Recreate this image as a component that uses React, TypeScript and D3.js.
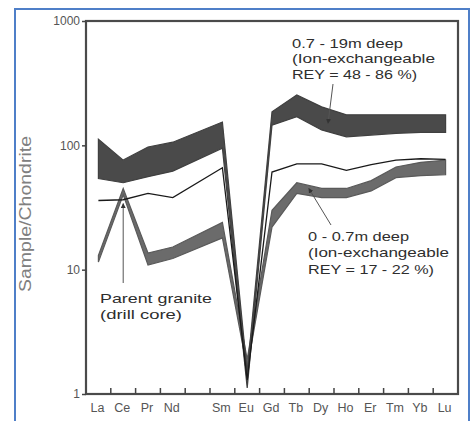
import React, { useEffect, useRef } from 'react';
import * as d3 from 'd3';

// x slots (Pm is left empty, like in the reference)
const slots = ['La', 'Ce', 'Pr', 'Nd', 'Pm', 'Sm', 'Eu', 'Gd', 'Tb', 'Dy', 'Ho', 'Er', 'Tm', 'Yb', 'Lu'];
const elements = ['La', 'Ce', 'Pr', 'Nd', 'Sm', 'Eu', 'Gd', 'Tb', 'Dy', 'Ho', 'Er', 'Tm', 'Yb', 'Lu'];

// 0.7 - 19m deep band
const deepTop = [112, 76, 97, 106, 154, 1.5, 186, 254, 204, 176, 176, 176, 176, 176];
const deepBottom = [54, 50, 56, 62, 95, 1.12, 145, 170, 133, 117, 121, 125, 127, 127];

// 0 - 0.7m deep band
const shallowTop = [13, 45, 13.6, 15.2, 24, 1.9, 30, 50, 45, 45, 52, 67, 73, 76];
const shallowBottom = [11.5, 40, 10.9, 12.3, 18, 1.6, 22, 41, 38, 38, 43, 55, 57, 58];

// parent granite (drill core)
const granite = [36, 36.5, 41, 38, 66, 1.3, 61, 71, 71, 63, 70, 76, 78, 77];

const yTicks = [1, 10, 100, 1000];

const W = 476;
const H = 421;

const App = () => {
  const svgRef = useRef(null);

  useEffect(() => {
    const svg = d3.select(svgRef.current);
    svg.selectAll('*').remove();

    const x = d3.scalePoint().domain(slots).range([86, 458]).padding(0.5);
    const y = d3.scaleLog().domain([1, 1000]).range([394, 21]);
    const step = x.step();

    const font = '"Liberation Sans", Arial, sans-serif';

    // blue outer frame
    svg.append('rect')
      .attr('x', 15).attr('y', 9)
      .attr('width', 454).attr('height', 430)
      .attr('fill', 'white')
      .attr('stroke', '#4f7fc8')
      .attr('stroke-width', 2);

    // arrow marker
    const defs = svg.append('defs');
    defs.append('marker')
      .attr('id', 'ah')
      .attr('viewBox', '0 0 10 10')
      .attr('refX', 9).attr('refY', 5)
      .attr('markerWidth', 5).attr('markerHeight', 5)
      .attr('orient', 'auto')
      .append('path')
      .attr('d', 'M0,0 L10,5 L0,10 Z')
      .attr('fill', '#333');

    const band = (top: number[], bottom: number[]) =>
      d3.area<number>()
        .x((d, i) => x(elements[i]) as number)
        .y0((d, i) => y(bottom[i]))
        .y1((d) => y(d))(top);

    const edge = d3.line<number>()
      .x((d, i) => x(elements[i]) as number)
      .y((d) => y(d));

    // shallow band
    svg.append('path')
      .attr('d', band(shallowTop, shallowBottom))
      .attr('fill', '#6b6b6b')
      .attr('stroke', '#5a5a5a')
      .attr('stroke-width', 1.2);

    // deep band
    svg.append('path')
      .attr('d', band(deepTop, deepBottom))
      .attr('fill', '#4a4a4a')
      .attr('stroke', '#404040')
      .attr('stroke-width', 1.2);

    // granite line
    svg.append('path')
      .attr('d', edge(granite))
      .attr('fill', 'none')
      .attr('stroke', '#1a1a1a')
      .attr('stroke-width', 1.3);

    // plot frame
    svg.append('rect')
      .attr('x', 86).attr('y', 21)
      .attr('width', 372).attr('height', 373)
      .attr('fill', 'none')
      .attr('stroke', '#4a4a4a')
      .attr('stroke-width', 2.2);

    // y axis ticks + labels
    const yAxis = d3.axisLeft(y).tickValues(yTicks).tickSize(4).tickFormat((d) => String(d));
    const gy = svg.append('g').attr('transform', 'translate(86,0)').call(yAxis);
    gy.select('.domain').remove();
    gy.selectAll('line').attr('stroke', '#444').attr('stroke-width', 1.5);
    gy.selectAll('text')
      .attr('x', -6)
      .attr('font-family', font)
      .attr('font-size', 12)
      .attr('fill', '#555');

    // x ticks at slot boundaries, pointing inward
    slots.slice(0, -1).forEach((s) => {
      const tx = (x(s) as number) + step / 2;
      svg.append('line')
        .attr('x1', tx).attr('x2', tx)
        .attr('y1', 394).attr('y2', 388)
        .attr('stroke', '#444')
        .attr('stroke-width', 1.5);
    });

    // x labels
    elements.forEach((el) => {
      svg.append('text')
        .attr('x', (x(el) as number) - 1)
        .attr('y', 412)
        .attr('text-anchor', 'middle')
        .attr('font-family', font)
        .attr('font-size', 12.5)
        .attr('fill', '#555')
        .text(el);
    });

    // y title
    svg.append('text')
      .attr('transform', 'translate(31,214) rotate(-90)')
      .attr('text-anchor', 'middle')
      .attr('font-family', font)
      .attr('font-size', 16)
      .attr('fill', '#808080')
      .attr('textLength', 156)
      .attr('lengthAdjust', 'spacingAndGlyphs')
      .text('Sample/Chondrite');

    // annotations
    const note = (lines: string[], widths: number[], tx: number, ty: number[]) => {
      lines.forEach((t, i) => {
        svg.append('text')
          .attr('x', tx)
          .attr('y', ty[i])
          .attr('font-family', font)
          .attr('font-size', 13)
          .attr('fill', '#2e2e2e')
          .attr('textLength', widths[i])
          .attr('lengthAdjust', 'spacingAndGlyphs')
          .text(t);
      });
    };

    note(['0.7 - 19m deep', '(Ion-exchangeable', 'REY = 48 - 86 %)'], [111, 143, 125], 292, [48, 63, 79]);
    note(['0 - 0.7m deep', '(Ion-exchangeable', 'REY = 17 - 22 %)'], [101, 141, 126], 308, [241, 257, 274]);
    note(['Parent granite', '(drill core)'], [112, 82], 100, [303, 319]);

    // leader arrows
    const leader = (x1: number, y1: number, x2: number, y2: number) => {
      svg.append('line')
        .attr('x1', x1).attr('y1', y1)
        .attr('x2', x2).attr('y2', y2)
        .attr('stroke', '#555')
        .attr('stroke-width', 1)
        .attr('marker-end', 'url(#ah)');
    };
    const xDyHo = ((x('Dy') as number) + (x('Ho') as number)) / 2;
    leader(333, 84, xDyHo - 6, y(150));
    leader(331, 225, (x('Tb') as number) + 12, y(45));
    leader(x('Ce') as number, 283, x('Ce') as number, y(34));
  }, []);

  return (
    <svg
      ref={svgRef}
      width={W}
      height={H}
      style={{ position: 'absolute', left: 0, top: 0, background: 'white' }}
    ></svg>
  );
};

export default App;
